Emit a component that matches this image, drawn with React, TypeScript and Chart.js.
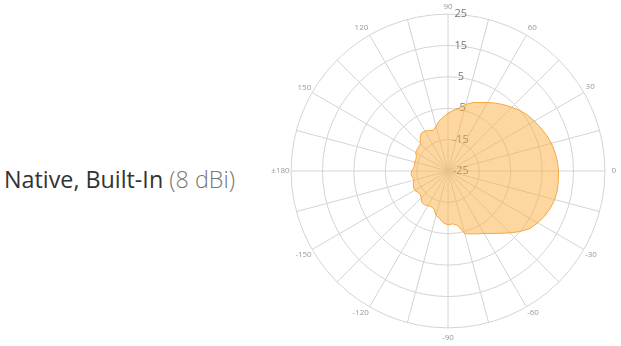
import React, { useEffect, useRef } from 'react';
import { Chart, registerables } from 'chart.js';

Chart.register(...registerables);

// Azimuth angles (degrees, counter-clockwise from 0 at the right)
const angles = [
  0, 5, 10, 15, 20, 25, 30, 35, 40, 45, 50, 55,
  60, 65, 70, 75, 80, 85, 90, 95, 100, 105, 110, 115,
  120, 125, 130, 135, 140, 145, 150, 155, 160, 165, 170, 175,
  180, 185, 190, 195, 200, 205, 210, 215, 220, 225, 230, 235,
  240, 245, 250, 255, 260, 265, 270, 275, 280, 285, 290, 295,
  300, 305, 310, 315, 320, 325, 330, 335, 340, 345, 350, 355,
];

// Gain (dB) at each azimuth
const gain = [
  10.2, 10.0, 9.6, 9.1, 8.4, 7.6, 6.8, 6.0, 5.0, 3.7, 2.6, 1.4,
  0.2, -0.9, -1.8, -3.0, -4.6, -5.6, -6.6, -7.8, -8.8, -10.3, -11.2, -10.8,
  -10.3, -10.2, -11.2, -12.6, -12.9, -13.0, -13.1, -13.9, -14.1, -14.0, -14.2, -14.0,
  -13.4, -13.2, -13.5, -13.8, -13.2, -12.9, -12.7, -13.2, -13.5, -12.9, -12.0, -11.9,
  -12.3, -12.4, -12.1, -10.3, -9.6, -8.4, -7.8, -8.1, -7.4, -4.3, -3.7, -2.9,
  -2.0, -0.7, 0.9, 2.9, 5.0, 6.9, 8.0, 9.0, 9.7, 10.2, 10.4, 10.3,
];

// Radial tick values
const radialTicks = [-25, -15, -5, 5, 15, 25];

// Angle tick labels
const angleTickValues = [0, 30, 60, 90, 120, 150, 180, -150, -120, -90, -60, -30];
const angleTickTexts = ['0', '30', '60', '90', '120', '150', '±180', '-150', '-120', '-90', '-60', '-30'];

const FONT = "'Open Sans', 'DejaVu Sans', sans-serif";

// label offsets from the outer ring (layout only)
const LABEL_PAD: Record<string, number> = {
  '90': -3, '0': 1, '±180': -4, '-90': 0,
  '60': -3, '120': -3, '30': -3.5, '150': -4.5,
  '-30': -4, '-150': -5, '-60': -4, '-120': -4,
};

export default function App() {
  const ref = useRef<HTMLCanvasElement>(null);

  useEffect(() => {
    if (!ref.current) return;
    const n = angles.length;
    // clockwise order starting at the top (90), as the radar scale runs clockwise from the top
    const top = angles.indexOf(90);
    const order: number[] = [];
    for (let k = 0; k < n; k++) order.push((top - k + n) % n);
    const labels = order.map((i) => {
      const a = angles[i];
      return String(a <= 180 ? a : a - 360);
    });
    const values = order.map((i) => gain[i]);

    const chart = new Chart(ref.current, {
      type: 'radar',
      data: {
        labels,
        datasets: [
          {
            data: values,
            fill: 'start',
            backgroundColor: 'rgba(251,176,64,0.5)',
            borderColor: 'rgba(246,166,62,1)',
            borderWidth: 1,
            pointRadius: 0,
            pointHoverRadius: 0,
            tension: 0,
          },
        ],
      },
      options: {
        responsive: false,
        animation: false,
        devicePixelRatio: 1,
        layout: { padding: 0 },
        plugins: { legend: { display: false }, tooltip: { enabled: false } },
        scales: {
          r: {
            startAngle: 0,
            min: -25,
            max: 25,
            afterBuildTicks: (scale: any) => {
              scale.ticks = radialTicks.map((v) => ({ value: v }));
            },
            grid: { circular: true, color: '#d4d4d4', lineWidth: 1 },
            angleLines: {
              color: '#d4d4d4',
              lineWidth: (c: any) => (c.index % 3 === 0 ? 1 : 0),
            },
            ticks: {
              stepSize: 10,
              showLabelBackdrop: false,
              backdropPadding: 0,
              color: '#777',
              font: { family: FONT, size: 11 },
              callback: (v: any) => '\u2003\u2003\u2004' + v,
            },
            pointLabels: {
              color: '#999',
              font: (c: any) => ({ family: FONT, size: 8, lineHeight: c.label ? 1.2 : 0 }),
              padding: (c: any) => (c.label && LABEL_PAD[c.label] !== undefined ? LABEL_PAD[c.label] : 0),
              callback: (label: any) => {
                const idx = angleTickValues.indexOf(Number(label));
                return idx >= 0 ? angleTickTexts[idx] : '';
              },
            },
          },
        },
      },
    });
    return () => chart.destroy();
  }, []);

  return (
    <div
      style={{
        position: 'absolute',
        left: 0,
        top: 0,
        width: 621,
        height: 346,
        overflow: 'hidden',
        background: '#fff',
      }}
    >
      <div
        style={{
          position: 'absolute',
          left: 4,
          top: 163,
          fontFamily: FONT,
          fontSize: 23.3,
          color: '#333',
          whiteSpace: 'nowrap',
        }}
      >
        Native, Built-In <span style={{ color: '#777', fontWeight: 300 }}>(8 dBi)</span>
      </div>
      <canvas
        ref={ref}
        width={360}
        height={343}
        style={{ position: 'absolute', left: 266, top: 2, width: 360, height: 343 }}
      />
    </div>
  );
}
